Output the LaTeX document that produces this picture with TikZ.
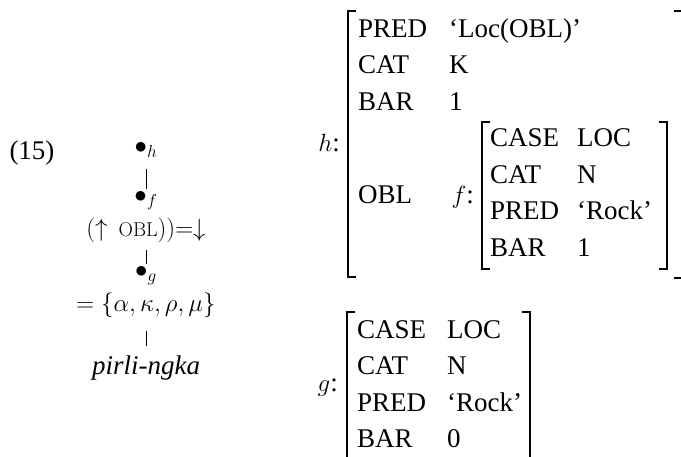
\documentclass[tikz,border=0pt]{standalone}
\usepackage{fontspec}
\setmainfont{Liberation Serif}
\newfontfamily\lmfont{Latin Modern Roman}
\newcommand{\obl}{{\lmfont\fontsize{20}{20}\selectfont OBL}}

\tikzset{
  tnode/.style={inner sep=0pt, align=center},
  edge/.style={line width=0.6pt, shorten <=11pt, shorten >=2pt},
  feat/.style={anchor=base west, inner sep=0pt},
  tag/.style={anchor=base east, inner sep=0pt},
  brk/.style={line width=1.6pt, line cap=butt}
}

\begin{document}
\begin{tikzpicture}[x=1pt, y=-1pt, font=\fontsize{27}{34}\selectfont]
    \useasboundingbox (0,0) rectangle (681,456);
    \node[anchor=base] (ex) at (32,159) {(15)};
    % tree
    \node[tnode] (h) at (146,150) {$\bullet_h$};
    \node[tnode] (f) at (146,217) {$\bullet_f$\\$(\uparrow\,\mbox{\obl}))\mathord{=}\mathord{\downarrow}$};
    \node[tnode] (g) at (146,292) {$\bullet_g$\\$=\{\alpha,\kappa,\rho,\mu\}$};
    \node[tnode] (w) at (146,368) {\itshape pirli-ngka};
    \draw[edge] (h) -- (f);
    \draw[edge, shorten <=7pt] (f) -- (g);
    \draw[edge, shorten <=13pt, shorten >=10pt] (g) -- (w);
    % f-structure of h
    \node[tag] (hlab) at (340,151) {$h$:};
    \draw[brk] (356,11) -- (348,11) -- (348,277) -- (356,277);
    \draw[brk] (674,11) -- (682,11) -- (682,278) -- (674,278);
    \node[feat] (hpred) at (358,37) {PRED};
    \node[feat] (hpredv) at (449,37) {`Loc(OBL)'};
    \node[feat] (hcat) at (358,73.5) {CAT};
    \node[feat] (hcatv) at (449,73.5) {K};
    \node[feat] (hbar) at (358,110) {BAR};
    \node[feat] (hbarv) at (449,110) {1};
    \node[feat] (hobl) at (358,203) {OBL};
    % embedded f
    \node[tag] (flab) at (474,203) {$f$:};
    \draw[brk] (490,122) -- (482,122) -- (482,269) -- (490,269);
    \draw[brk] (659,122) -- (667,122) -- (667,269) -- (659,269);
    \node[feat] (fcase) at (490,146.5) {CASE};
    \node[feat] (fcasev) at (577,146.5) {LOC};
    \node[feat] (fcat) at (490,183) {CAT};
    \node[feat] (fcatv) at (577,183) {N};
    \node[feat] (fpred) at (490,219.5) {PRED};
    \node[feat] (fpredv) at (577,219.5) {`Rock'};
    \node[feat] (fbar) at (490,256) {BAR};
    \node[feat] (fbarv) at (577,256) {1};
    % f-structure of g
    \node[tag] (glab) at (338,391) {$g$:};
    \draw[brk] (355,312) -- (347,312) -- (347,468) -- (355,468);
    \draw[brk] (522,312) -- (530,312) -- (530,468) -- (522,468);
    \node[feat] (gcase) at (357,338) {CASE};
    \node[feat] (gcasev) at (447,338) {LOC};
    \node[feat] (gcat) at (357,374.5) {CAT};
    \node[feat] (gcatv) at (447,374.5) {N};
    \node[feat] (gpred) at (357,411) {PRED};
    \node[feat] (gpredv) at (447,411) {`Rock'};
    \node[feat] (gbar) at (357,447.5) {BAR};
    \node[feat] (gbarv) at (447,447.5) {0};
\end{tikzpicture}
\end{document}
